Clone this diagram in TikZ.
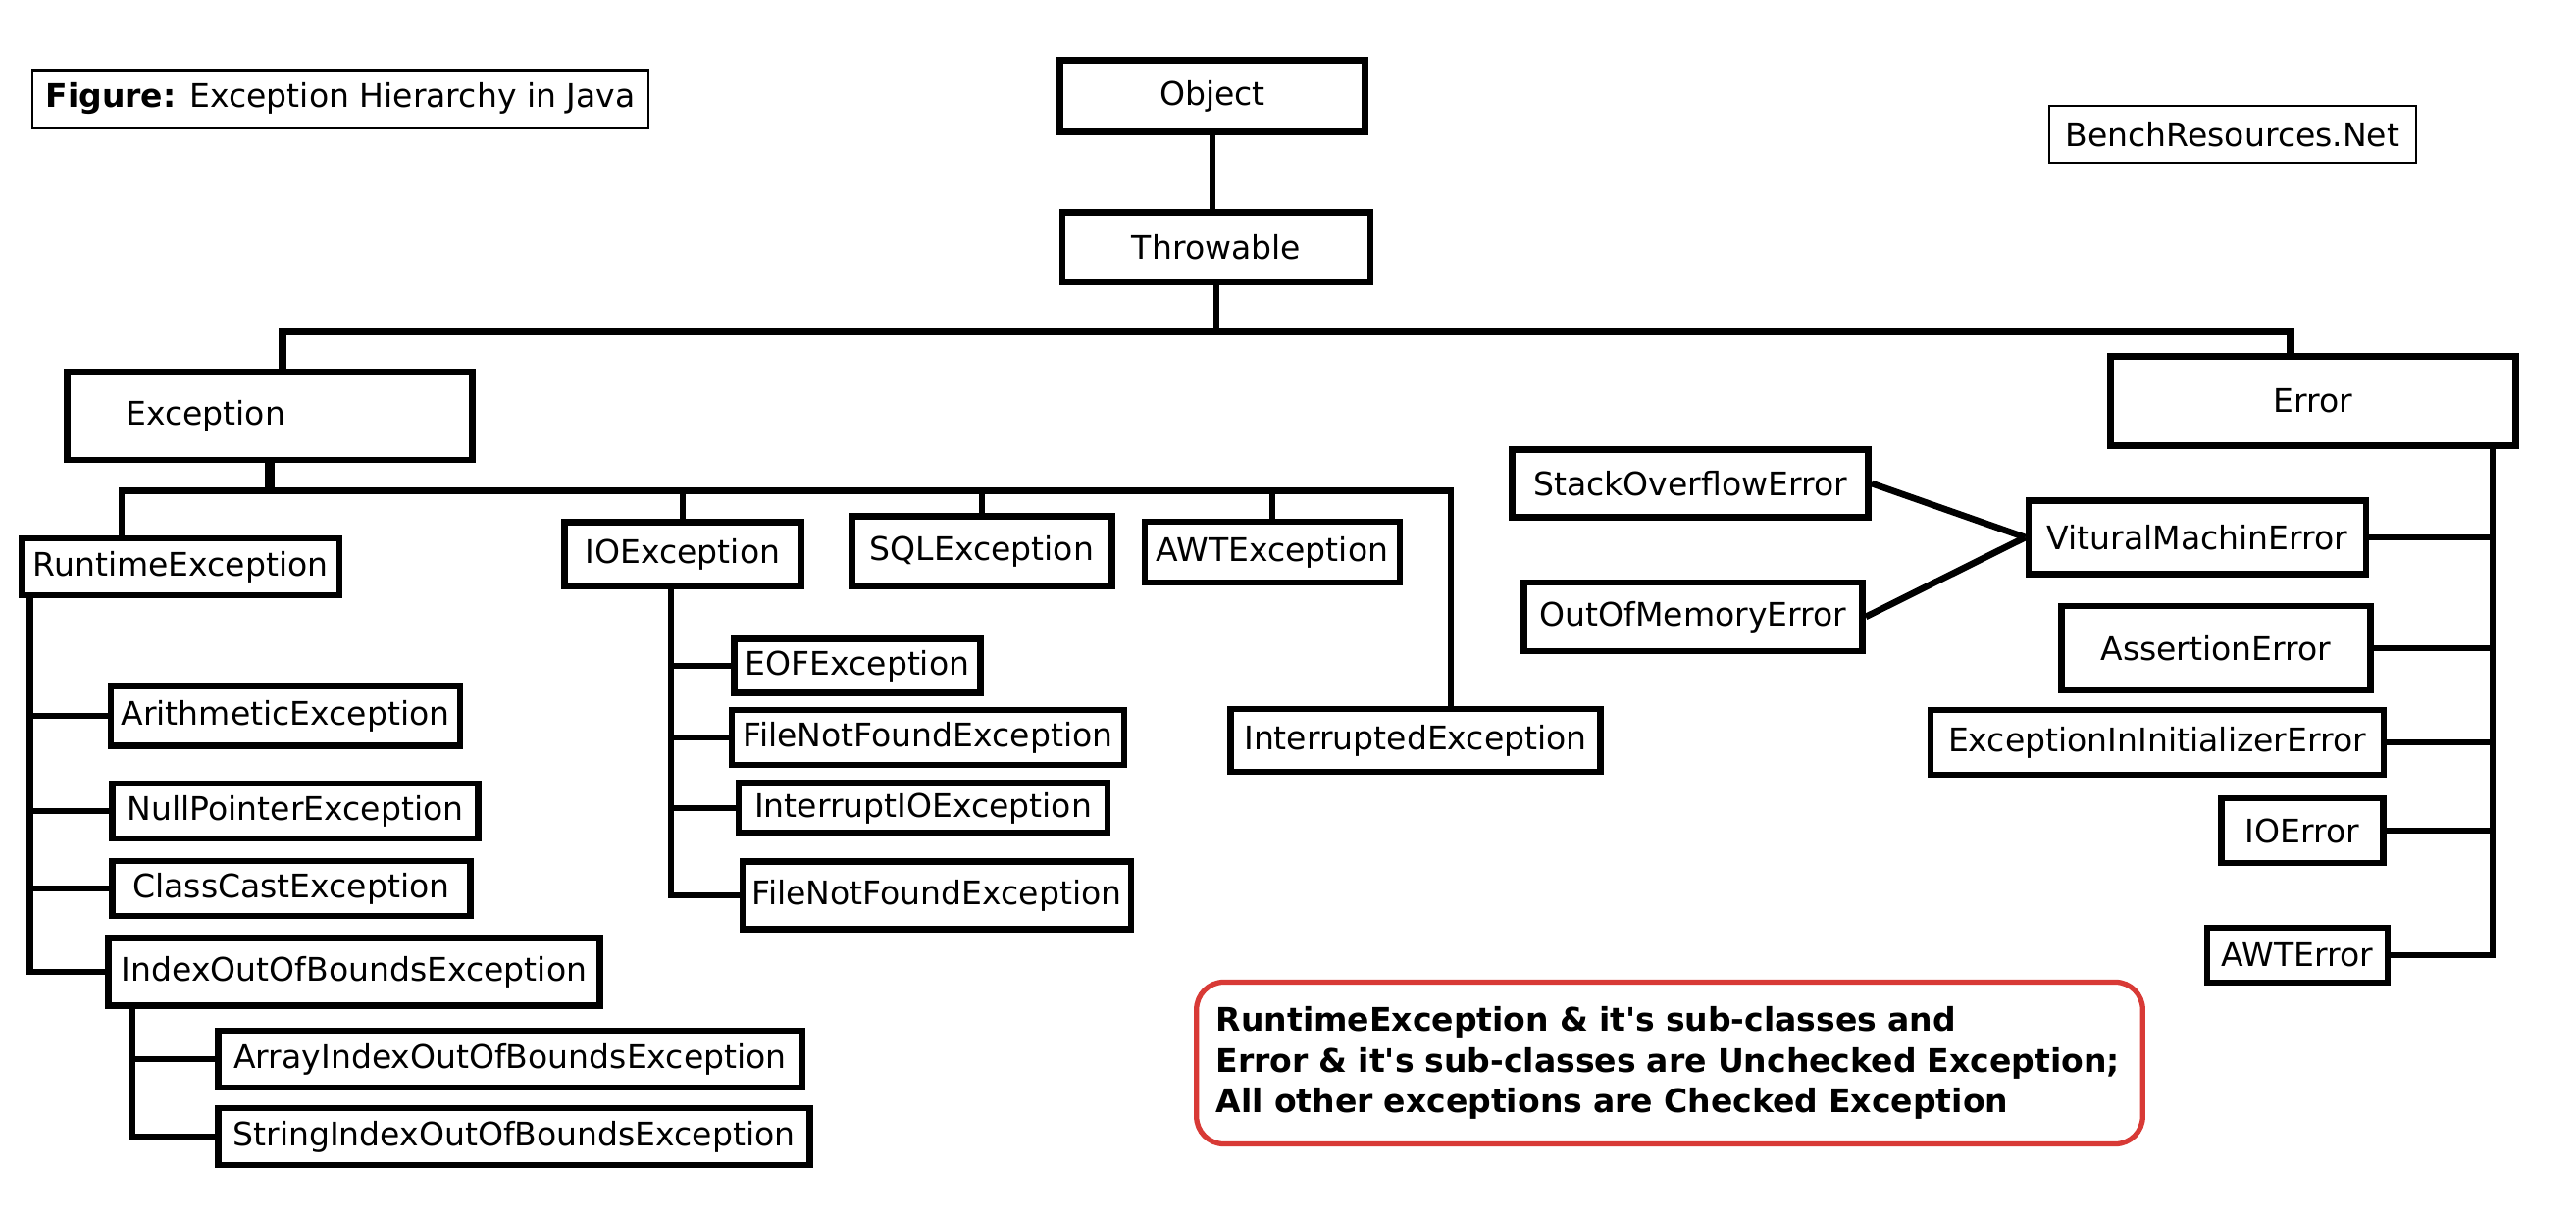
\documentclass[tikz,border=0pt]{standalone}
\usepackage{fontspec}
\setmainfont{DejaVu Sans}[Ligatures=TeXOff]
\usepackage{tikz}
\usetikzlibrary{calc,positioning}
\definecolor{noteRed}{RGB}{216,58,54}

\begin{document}
\begin{tikzpicture}[x=0.01cm, y=-0.01cm,
  cls/.style={draw, line width=1.9pt, inner sep=0pt, font=\fontsize{9.4}{11}\selectfont},
  tag/.style={draw, line width=0.6pt, inner sep=0pt, font=\fontsize{9.4}{11}\selectfont},
  link/.style={line width=1.9pt}]

\useasboundingbox[fill=white] (0,0) rectangle (2626,1240);

% ---------------- 1. HEADER TAGS ----------------
\node[tag, minimum width=6.27cm, minimum height=0.59cm] (fig) at (347,101) {\textbf{Figure:} Exception Hierarchy in Java};
\node[tag, minimum width=3.73cm, minimum height=0.58cm] (brand) at (2276,137) {BenchResources.Net};

% ---------------- 2. ROOT CLASSES ----------------
\node[cls, minimum width=3.11cm, minimum height=0.73cm] (obj) at (1236,98) {Object};
\node[cls, minimum width=3.14cm, minimum height=0.71cm] (thr) at (1240,252) {Throwable};
\node[cls, minimum width=4.13cm, minimum height=0.90cm, text width=2.93cm, inner xsep=0.6cm, align=left] (exc) at (275,424) {Exception};
\node[cls, minimum width=4.13cm, minimum height=0.91cm] (err) at (2358,409) {Error};

% ---------------- 3. EXCEPTION BRANCH ----------------
\node[cls, minimum width=3.24cm, minimum height=0.58cm] (rt) at (184,578) {RuntimeException};
\node[cls, minimum width=2.41cm, minimum height=0.65cm] (io) at (696,565) {IOException};
\node[cls, minimum width=2.65cm, minimum height=0.71cm] (sql) at (1001,562) {SQLException};
\node[cls, minimum width=2.60cm, minimum height=0.62cm] (awt) at (1297,563) {AWTException};
\node[cls, minimum width=3.77cm, minimum height=0.64cm] (intr) at (1443,755) {InterruptedException};

% RuntimeException sub-classes
\node[cls, minimum width=3.56cm, minimum height=0.61cm] (ar) at (291,730) {ArithmeticException};
\node[cls, minimum width=3.73cm, minimum height=0.56cm] (np) at (301,827) {NullPointerException};
\node[cls, minimum width=3.65cm, minimum height=0.56cm] (cc) at (297,906) {ClassCastException};
\node[cls, minimum width=5.01cm, minimum height=0.69cm] (iob) at (361,991) {IndexOutOfBoundsException};
\node[cls, minimum width=5.94cm, minimum height=0.58cm] (aio) at (520,1080) {ArrayIndexOutOfBoundsException};
\node[cls, minimum width=6.02cm, minimum height=0.58cm] (sio) at (524,1159) {StringIndexOutOfBoundsException};

% IOException sub-classes
\node[cls, minimum width=2.51cm, minimum height=0.55cm] (eof) at (874,679) {EOFException};
\node[cls, minimum width=4.00cm, minimum height=0.56cm] (fnfa) at (946,752) {FileNotFoundException};
\node[cls, minimum width=3.76cm, minimum height=0.51cm] (iio) at (941,824) {InterruptIOException};
\node[cls, minimum width=3.96cm, minimum height=0.69cm] (fnfb) at (955,913) {FileNotFoundException};

% ---------------- 4. ERROR BRANCH ----------------
\node[cls, minimum width=3.63cm, minimum height=0.69cm] (so) at (1723,493) {StackOverflowError};
\node[cls, minimum width=3.45cm, minimum height=0.70cm] (oom) at (1726,629) {OutOfMemoryError};
\node[cls, minimum width=3.44cm, minimum height=0.75cm] (vm) at (2240,548) {VituralMachinError};
\node[cls, minimum width=3.15cm, minimum height=0.86cm] (ase) at (2259,661) {AssertionError};
\node[cls, minimum width=4.62cm, minimum height=0.66cm] (eii) at (2199,757) {ExceptionInInitializerError};
\node[cls, minimum width=1.65cm, minimum height=0.66cm] (ioe) at (2347,847) {IOError};
\node[cls, minimum width=1.84cm, minimum height=0.56cm] (awte) at (2342,974) {AWTError};

% ---------------- 5. CONNECTORS ----------------
\draw[link] (obj.south) -- (obj.south |- thr.north);
\draw[link] (thr.south) -- ++(0,47) coordinate (thrbar);
\draw[line width=2.1pt] ([xshift=0.13cm]exc.north) |- (thrbar) -| ([xshift=-0.23cm]err.north);

\draw[line width=2.6pt] (exc.south) -- ++(0,28) coordinate (excbar);
\draw[link] ([xshift=-0.6cm]rt.north) |- (excbar) -| ([xshift=0.36cm]intr.north);
\foreach \c in {io,sql,awt} \draw[link] (\c.north) -- (\c.north |- excbar);

% RuntimeException stem
\coordinate (rtstem) at ([xshift=0.12cm]rt.south west);
\draw[link] (rtstem) |- (iob.west);
\foreach \c in {ar,np,cc} \draw[link] (\c.west) -- (\c.west -| rtstem);

% IndexOutOfBoundsException stem
\coordinate (iobstem) at ([xshift=0.28cm]iob.south west);
\draw[link] (iobstem) |- (sio.west);
\draw[link] (aio.west) -- (aio.west -| iobstem);

% IOException stem
\coordinate (iostem) at ([xshift=-0.12cm]io.south);
\draw[link] (iostem) |- (fnfb.west);
\foreach \c in {eof,fnfa,iio} \draw[link] (\c.west) -- (\c.west -| iostem);

% Error stem
\coordinate (errstem) at ([xshift=-0.27cm]err.south east);
\draw[link] (errstem) |- (awte.east);
\foreach \c in {vm,ase,eii,ioe} \draw[link] (\c.east) -- (\c.east -| errstem);

% VirtualMachineError sub-classes
\draw[link] (so.east) -- (vm.west);
\draw[link] (oom.east) -- (vm.west);

% ---------------- 6. NOTE ----------------
\node[draw=noteRed, line width=1.5pt, rounded corners=0.28cm, minimum width=9.64cm, minimum height=1.65cm,
  text width=9.24cm, inner xsep=0.2cm, align=left, font=\bfseries\fontsize{9.4}{11.9}\selectfont] (note) at (1702,1084)
  {RuntimeException \& it's sub-classes and\\ Error \& it's sub-classes are Unchecked Exception;\\ All other exceptions are Checked Exception};

\end{tikzpicture}
\end{document}
